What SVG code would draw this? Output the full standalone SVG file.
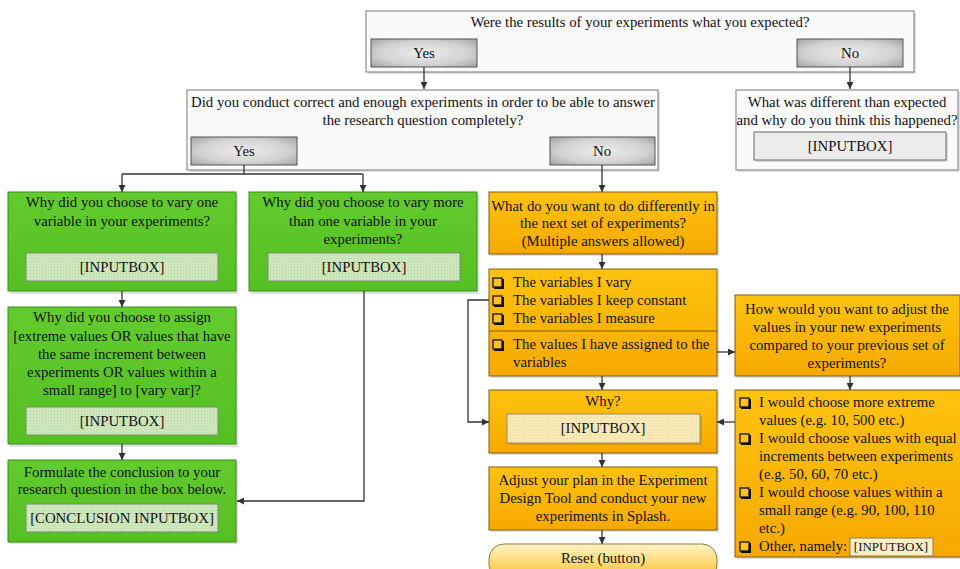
<svg xmlns="http://www.w3.org/2000/svg" width="960" height="569" viewBox="0 0 960 569">
<defs>
<linearGradient id="gOrange" x1="0" y1="0" x2="0" y2="1"><stop offset="0" stop-color="#fec30f"/><stop offset="1" stop-color="#f6a900"/></linearGradient>
<linearGradient id="gGreen" x1="0" y1="0" x2="0" y2="1"><stop offset="0" stop-color="#62cb2e"/><stop offset="1" stop-color="#55c022"/></linearGradient>
<radialGradient id="gBtn" cx="0.5" cy="0.5" r="0.7"><stop offset="0" stop-color="#ececec"/><stop offset="0.6" stop-color="#d2d2d2"/><stop offset="1" stop-color="#a2a2a2"/></radialGradient>
<linearGradient id="gReset" x1="0" y1="0" x2="0" y2="1"><stop offset="0" stop-color="#fff4c8"/><stop offset="0.6" stop-color="#fbd565"/><stop offset="1" stop-color="#f3b31c"/></linearGradient>
<pattern id="pGreen" width="3" height="3" patternUnits="userSpaceOnUse"><rect width="3" height="3" fill="#d3e9c2"/><rect width="1" height="1" fill="#a9cf91"/><rect x="1.5" y="1.5" width="1" height="1" fill="#b9d9a4"/></pattern>
<pattern id="pCream" width="3" height="3" patternUnits="userSpaceOnUse"><rect width="3" height="3" fill="#f8e9b9"/><rect width="1" height="1" fill="#ecd595"/></pattern>
<marker id="arr" viewBox="0 0 10 10" refX="10" refY="5" markerWidth="7" markerHeight="7" markerUnits="userSpaceOnUse" orient="auto"><path d="M0,0 L10,5 L0,10 z" fill="#333"/></marker>
</defs>
<style>
text{font-family:"Liberation Serif","Times New Roman",serif;font-size:14.8px;fill:#111;}
.c{text-anchor:middle;}
.q{fill:#fafafa;stroke:#7a7a7a;stroke-width:1;}
.sh{fill:#000;opacity:0.12;}
.btn{fill:url(#gBtn);stroke:#555;stroke-width:1;}
.gr{fill:url(#gGreen);stroke:#3c8a1d;stroke-width:1;}
.or{fill:url(#gOrange);stroke:#7d5f12;stroke-width:1;}
.ib{fill:url(#pGreen);stroke:#7c8a74;stroke-width:1;}
.ibc{fill:url(#pCream);stroke:#9c8f6a;stroke-width:1;}
.ibg{fill:#ececec;stroke:#666;stroke-width:1;}
.cbs{fill:#111;}
.cb{fill:#fcc02a;stroke:#111;stroke-width:1.3;}
.ln{fill:none;stroke:#333;stroke-width:1.3;marker-end:url(#arr);}
.ln0{fill:none;stroke:#333;stroke-width:1.3;}
</style>

<g id="q1">
<rect class="sh" x="368" y="13" width="548" height="61"/>
<rect class="q" x="366" y="11" width="548" height="61"/>
<text class="c" x="640" y="27">Were the results of your experiments what you expected?</text>
<rect class="btn" x="371" y="39" width="106" height="28"/>
<text class="c" x="424" y="58">Yes</text>
<rect class="btn" x="797" y="39" width="106" height="28"/>
<text class="c" x="850" y="58">No</text>
</g>

<g id="q2">
<rect class="sh" x="189" y="92" width="471" height="80"/>
<rect class="q" x="187" y="90" width="471" height="80"/>
<text class="c" x="423" y="107">Did you conduct correct and enough experiments in order to be able to answer</text>
<text class="c" x="423" y="125">the research question completely?</text>
<rect class="btn" x="191" y="137" width="106" height="28"/>
<text class="c" x="244" y="156">Yes</text>
<rect class="btn" x="550" y="137" width="105" height="28"/>
<text class="c" x="602" y="156">No</text>
</g>

<g id="diff">
<rect class="sh" x="738" y="92" width="222" height="80"/>
<rect class="q" x="736" y="90" width="222" height="80"/>
<text class="c" x="847" y="107">What was different than expected</text>
<text class="c" x="847" y="125">and why do you think this happened?</text>
<rect class="sh" x="756" y="134" width="192" height="28"/>
<rect class="ibg" x="754" y="132" width="192" height="28"/>
<text class="c" x="850" y="151">[INPUTBOX]</text>
</g>

<g id="g1">
<rect class="sh" x="10" y="194" width="228" height="100"/>
<rect class="gr" x="8" y="192" width="228" height="99"/>
<text class="c" x="122" y="207">Why did you choose to vary one</text>
<text class="c" x="122" y="226">variable in your experiments?</text>
<rect class="ib" x="26" y="253" width="192" height="28"/>
<text class="c" x="122" y="272">[INPUTBOX]</text>
</g>

<g id="g2">
<rect class="sh" x="251" y="194" width="228" height="100"/>
<rect class="gr" x="249" y="192" width="228" height="99"/>
<text class="c" x="363" y="207">Why did you choose to vary more</text>
<text class="c" x="363" y="226">than one variable in your</text>
<text class="c" x="363" y="244">experiments?</text>
<rect class="ib" x="268" y="253" width="192" height="28"/>
<text class="c" x="364" y="272">[INPUTBOX]</text>
</g>

<g id="g3">
<rect class="sh" x="10" y="309" width="228" height="138"/>
<rect class="gr" x="8" y="307" width="228" height="137"/>
<text class="c" x="122" y="322">Why did you choose to assign</text>
<text class="c" x="122" y="341">[extreme values OR values that have</text>
<text class="c" x="122" y="359">the same increment between</text>
<text class="c" x="122" y="377">experiments OR values within a</text>
<text class="c" x="122" y="395">small range] to [vary var]?</text>
<rect class="ib" x="26" y="407" width="192" height="28"/>
<text class="c" x="122" y="426">[INPUTBOX]</text>
</g>

<g id="g4">
<rect class="sh" x="10" y="462" width="228" height="82"/>
<rect class="gr" x="8" y="460" width="228" height="82"/>
<text class="c" x="122" y="477">Formulate the conclusion to your</text>
<text class="c" x="122" y="494">research question in the box below.</text>
<rect class="ib" x="26" y="504" width="192" height="28"/>
<text class="c" x="122" y="523">[CONCLUSION INPUTBOX]</text>
</g>

<g id="o1">
<rect class="sh" x="491" y="194" width="228" height="62"/>
<rect class="or" x="489" y="192" width="228" height="62"/>
<text class="c" x="603" y="211">What do you want to do differently in</text>
<text class="c" x="603" y="228">the next set of experiments?</text>
<text class="c" x="603" y="246">(Multiple answers allowed)</text>
</g>

<g id="o2">
<rect class="sh" x="491" y="271" width="228" height="107"/>
<rect class="or" x="489" y="269" width="228" height="107"/>
<line x1="489" y1="331" x2="717" y2="331" stroke="#7d5f12" stroke-width="1"/>
<rect class="cbs" x="494" y="279" width="10" height="10"/><rect class="cb" x="493" y="278" width="9" height="9"/>
<text x="513" y="287">The variables I vary</text>
<rect class="cbs" x="494" y="297" width="10" height="10"/><rect class="cb" x="493" y="296" width="9" height="9"/>
<text x="513" y="305">The variables I keep constant</text>
<rect class="cbs" x="494" y="315" width="10" height="10"/><rect class="cb" x="493" y="314" width="9" height="9"/>
<text x="513" y="323">The variables I measure</text>
<rect class="cbs" x="494" y="341" width="10" height="10"/><rect class="cb" x="493" y="340" width="9" height="9"/>
<text x="513" y="349">The values I have assigned to the</text>
<text x="513" y="367">variables</text>
</g>

<g id="why">
<rect class="sh" x="491" y="392" width="228" height="63"/>
<rect class="or" x="489" y="390" width="228" height="63"/>
<text class="c" x="603" y="406">Why?</text>
<rect class="sh" x="509" y="416" width="193" height="29"/>
<rect class="ibc" x="507" y="414" width="193" height="29"/>
<text class="c" x="603" y="433">[INPUTBOX]</text>
</g>

<g id="adjust">
<rect class="sh" x="491" y="469" width="228" height="63"/>
<rect class="or" x="489" y="467" width="228" height="63"/>
<text class="c" x="603" y="485">Adjust your plan in the Experiment</text>
<text class="c" x="603" y="503">Design Tool and conduct your new</text>
<text class="c" x="603" y="521">experiments in Splash.</text>
</g>

<g id="reset">
<rect x="489" y="544" width="228" height="36" rx="15" fill="url(#gReset)" stroke="#8f7a45" stroke-width="1"/>
<text class="c" x="603" y="563">Reset (button)</text>
</g>

<g id="how">
<rect class="sh" x="737" y="297" width="223" height="81"/>
<rect class="or" x="735" y="295" width="225" height="81"/>
<text class="c" x="847" y="314">How would you want to adjust the</text>
<text class="c" x="847" y="332">values in your new experiments</text>
<text class="c" x="847" y="350">compared to your previous set of</text>
<text class="c" x="847" y="368">experiments?</text>
</g>

<g id="options">
<rect class="sh" x="737" y="392" width="223" height="167"/>
<rect class="or" x="735" y="390" width="226" height="167"/>
<rect class="cbs" x="741" y="399" width="10" height="10"/><rect class="cb" x="740" y="398" width="9" height="9"/>
<text x="759" y="407">I would choose more extreme</text>
<text x="759" y="425">values (e.g. 10, 500 etc.)</text>
<rect class="cbs" x="741" y="435" width="10" height="10"/><rect class="cb" x="740" y="434" width="9" height="9"/>
<text x="759" y="443">I would choose values with equal</text>
<text x="759" y="461">increments between experiments</text>
<text x="759" y="479">(e.g. 50, 60, 70 etc.)</text>
<rect class="cbs" x="741" y="489" width="10" height="10"/><rect class="cb" x="740" y="488" width="9" height="9"/>
<text x="759" y="497">I would choose values within a</text>
<text x="759" y="515">small range (e.g. 90, 100, 110</text>
<text x="759" y="533">etc.)</text>
<rect class="cbs" x="741" y="543" width="10" height="10"/><rect class="cb" x="740" y="542" width="9" height="9"/>
<text x="759" y="551">Other, namely:</text>
<rect x="850" y="538" width="83" height="18" fill="#fcefc8" stroke="#8a7a50" stroke-width="1"/>
<text class="c" x="891" y="551" style="font-size:13px">[INPUTBOX]</text>
</g>

<g id="connectors">
<path class="ln" d="M424,67 V89"/>
<path class="ln" d="M850,67 V89"/>
<path class="ln0" d="M244,165 V174 M122,174 H363"/>
<path class="ln" d="M122,174 V192"/>
<path class="ln" d="M363,174 V192"/>
<path class="ln" d="M602,165 V192"/>
<path class="ln" d="M122,291 V307"/>
<path class="ln" d="M122,444 V460"/>
<path class="ln" d="M364,291 V501 H237"/>
<path class="ln" d="M602,254 V269"/>
<path class="ln" d="M489,300 H468 V422 H489"/>
<path class="ln" d="M717,352 H735"/>
<path class="ln" d="M602,376 V390"/>
<path class="ln" d="M735,422 H717"/>
<path class="ln" d="M602,453 V467"/>
<path class="ln" d="M602,530 V544"/>
<path class="ln" d="M850,376 V390"/>
</g>
</svg>
